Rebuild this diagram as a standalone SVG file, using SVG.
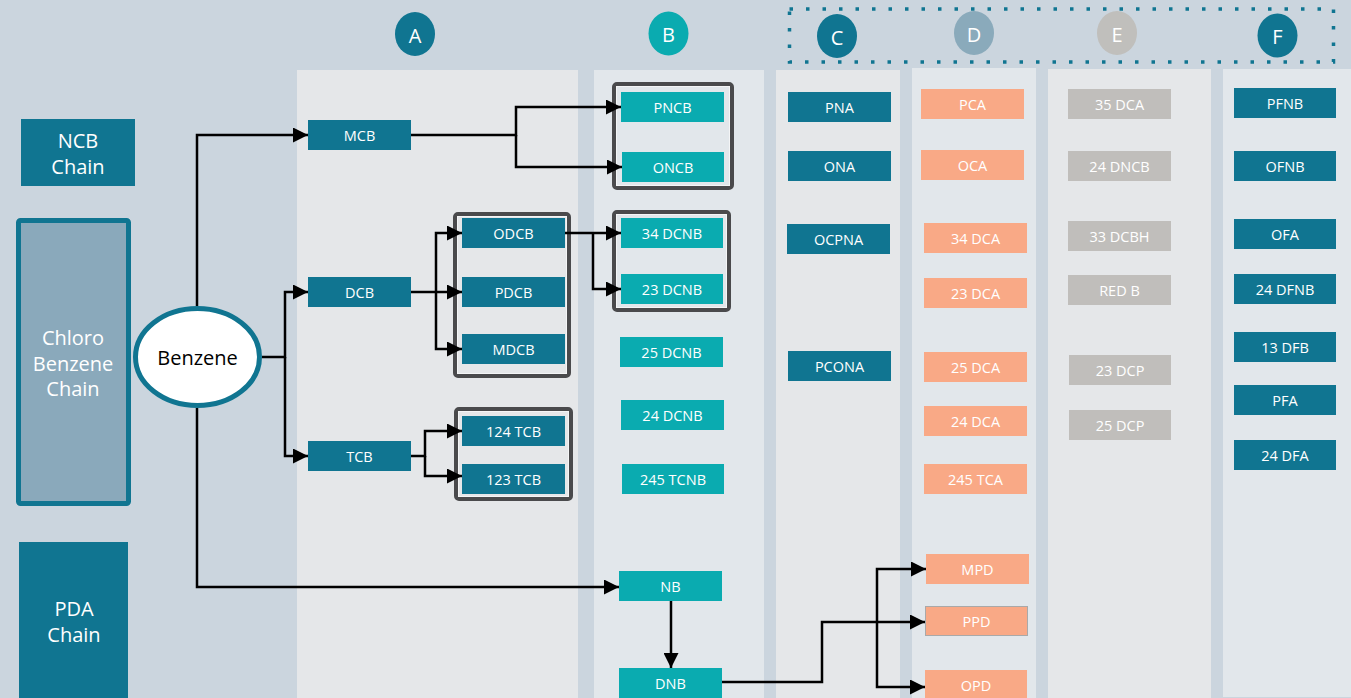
<svg xmlns="http://www.w3.org/2000/svg" width="1351" height="698" viewBox="0 0 1351 698">
<defs>
<marker id="ah" markerUnits="userSpaceOnUse" markerWidth="15" markerHeight="15" refX="15" refY="7.5" orient="auto">
<path d="M0,0 L15,7.5 L0,15 z" fill="#000"/>
</marker>
<style>
.bg{fill:#cbd5de}
.pa{fill:#e5e7e9}
.pb{fill:#e2e7eb}
.t{font-family:"Open Sans","Liberation Sans",sans-serif;font-size:14.5px;fill:#fff;text-anchor:middle;dominant-baseline:central}
.big{font-family:"Open Sans","Liberation Sans",sans-serif;font-size:20px;fill:#fff;text-anchor:middle;dominant-baseline:central}
.dk{fill:#107591}
.tq{fill:#0aabb0}
.sa{fill:#f9a986}
.gr{fill:#c0bebb}
.frame{fill:none;stroke:#4a4a4c;stroke-width:4}
.inner{fill:none;stroke:#f4f5f6;stroke-width:1}
.c{fill:none;stroke:#000;stroke-width:2.5;marker-end:url(#ah)}
</style>
</defs>
<rect class="bg" x="0" y="0" width="1351" height="698"/>
<g id="panels">
<rect class="pa" x="297" y="70" width="281" height="628"/>
<rect class="pb" x="594" y="70" width="170" height="628"/>
<rect class="pa" x="776" y="70" width="124" height="628"/>
<rect class="pb" x="912" y="68" width="124" height="630"/>
<rect class="pa" x="1048" y="69" width="163" height="629"/>
<rect class="pb" x="1223" y="69" width="128" height="628"/>
</g>
<rect id="dotted" x="789.5" y="9" width="544" height="53" fill="none" stroke="#107591" stroke-width="3.5" stroke-dasharray="3.5 13"/>
<g id="headers">
<ellipse cx="415" cy="34" rx="20" ry="22" fill="#107591"/><text class="big" x="415" y="35">A</text>
<ellipse cx="668.5" cy="33.5" rx="20" ry="22" fill="#0aabb0"/><text class="big" x="668.5" y="34.5">B</text>
<ellipse cx="837" cy="36" rx="20" ry="22" fill="#107591"/><text class="big" x="837" y="37">C</text>
<ellipse cx="974" cy="33" rx="20" ry="22" fill="#8aaabb"/><text class="big" x="974" y="34">D</text>
<ellipse cx="1117" cy="33" rx="20" ry="22" fill="#c0bfbc"/><text class="big" x="1117" y="34">E</text>
<ellipse cx="1277.5" cy="35.5" rx="20" ry="22" fill="#107591"/><text class="big" x="1277.5" y="36.5">F</text>
</g>
<g id="ncb-chain"><rect class="dk" x="21" y="119" width="114" height="67"/><text class="big" x="78" y="140">NCB</text><text class="big" x="78" y="166">Chain</text></g>
<g id="chloro-chain"><rect x="18.5" y="220.5" width="110" height="283" rx="2" fill="#8aa9bb" stroke="#107591" stroke-width="5"/><text class="big" x="73" y="337">Chloro</text><text class="big" x="73" y="363">Benzene</text><text class="big" x="73" y="388">Chain</text></g>
<g id="pda-chain"><rect class="dk" x="19" y="542" width="109" height="156"/><text class="big" x="74" y="608">PDA</text><text class="big" x="74" y="634">Chain</text></g>
<g id="frames">
<rect class="frame" x="614" y="84" width="118" height="104" rx="3"/><rect class="inner" x="616.5" y="86.5" width="113" height="99"/>
<rect class="frame" x="455" y="214" width="114" height="162" rx="3"/><rect class="inner" x="457.5" y="216.5" width="109" height="157"/>
<rect class="frame" x="614" y="212" width="115" height="98" rx="3"/><rect class="inner" x="616.5" y="214.5" width="110" height="93"/>
<rect class="frame" x="456" y="409" width="115" height="90" rx="3"/><rect class="inner" x="458.5" y="411.5" width="110" height="85"/>
</g>
<g id="connectors">
<path class="c" d="M197,306 V135 H308"/>
<path class="c" d="M197,408 V587 H619"/>
<path class="c" d="M262,357 H285 V292 H308"/>
<path class="c" d="M285,357 V456 H308"/>
<path class="c" d="M411,135 H516 V107 H621"/>
<path class="c" d="M516,135 V167 H622"/>
<path class="c" d="M411,292 H462"/>
<path class="c" d="M436,292 V233 H462"/>
<path class="c" d="M436,292 V349 H462"/>
<path class="c" d="M565,233 H621"/>
<path class="c" d="M593,233 V289 H621"/>
<path class="c" d="M411,456 H425 V431 H462"/>
<path class="c" d="M425,456 V476 H462"/>
<path class="c" d="M671,601 V668"/>
<path class="c" d="M722,682 H822 V622 H925"/>
<path class="c" d="M877,622 V569 H926"/>
<path class="c" d="M877,622 V687 H925"/>
</g>
<g id="benzene"><ellipse cx="197.5" cy="357" rx="62" ry="48.5" fill="#fff" stroke="#107591" stroke-width="5"/><text x="197.5" y="357" font-family="'Open Sans','Liberation Sans',sans-serif" font-size="20" fill="#000" text-anchor="middle" dominant-baseline="central">Benzene</text></g>
<g id="MCB"><rect class="dk" x="308" y="120" width="103" height="30"/><text class="t" x="359.5" y="135">MCB</text></g>
<g id="DCB"><rect class="dk" x="308" y="277" width="103" height="30"/><text class="t" x="359.5" y="292">DCB</text></g>
<g id="TCB"><rect class="dk" x="308" y="441" width="103" height="30"/><text class="t" x="359.5" y="456">TCB</text></g>
<g id="ODCB"><rect class="dk" x="462" y="218" width="103" height="30"/><text class="t" x="513.5" y="233">ODCB</text></g>
<g id="PDCB"><rect class="dk" x="462" y="277" width="103" height="30"/><text class="t" x="513.5" y="292">PDCB</text></g>
<g id="MDCB"><rect class="dk" x="462" y="334" width="103" height="30"/><text class="t" x="513.5" y="349">MDCB</text></g>
<g id="TCB124"><rect class="dk" x="462" y="416" width="103" height="30"/><text class="t" x="513.5" y="431">124 TCB</text></g>
<g id="TCB123"><rect class="dk" x="462" y="464" width="103" height="30"/><text class="t" x="513.5" y="479">123 TCB</text></g>
<g id="PNCB"><rect class="tq" x="621" y="92" width="103" height="30"/><text class="t" x="672.5" y="107">PNCB</text></g>
<g id="ONCB"><rect class="tq" x="622" y="152" width="102" height="30"/><text class="t" x="673" y="167">ONCB</text></g>
<g id="DCNB34"><rect class="tq" x="621" y="218" width="102" height="30"/><text class="t" x="672" y="233">34 DCNB</text></g>
<g id="DCNB23"><rect class="tq" x="621" y="274" width="102" height="30"/><text class="t" x="672" y="289">23 DCNB</text></g>
<g id="DCNB25"><rect class="tq" x="620" y="337" width="103" height="30"/><text class="t" x="671.5" y="352">25 DCNB</text></g>
<g id="DCNB24"><rect class="tq" x="621" y="400" width="103" height="30"/><text class="t" x="672.5" y="415">24 DCNB</text></g>
<g id="TCNB245"><rect class="tq" x="622" y="464" width="102" height="30"/><text class="t" x="673" y="479">245 TCNB</text></g>
<g id="NB"><rect class="tq" x="619" y="571" width="103" height="30"/><text class="t" x="670.5" y="586">NB</text></g>
<g id="DNB"><rect class="tq" x="619" y="668" width="103" height="32"/><text class="t" x="670.5" y="683">DNB</text></g>
<g id="PNA"><rect class="dk" x="788" y="92" width="103" height="30"/><text class="t" x="839.5" y="107">PNA</text></g>
<g id="ONA"><rect class="dk" x="788" y="151" width="103" height="30"/><text class="t" x="839.5" y="166">ONA</text></g>
<g id="OCPNA"><rect class="dk" x="787" y="224" width="103" height="30"/><text class="t" x="838.5" y="239">OCPNA</text></g>
<g id="PCONA"><rect class="dk" x="788" y="351" width="103" height="30"/><text class="t" x="839.5" y="366">PCONA</text></g>
<g id="PCA"><rect class="sa" x="921" y="89" width="103" height="30"/><text class="t" x="972.5" y="104">PCA</text></g>
<g id="OCA"><rect class="sa" x="921" y="150" width="103" height="30"/><text class="t" x="972.5" y="165">OCA</text></g>
<g id="DCA34"><rect class="sa" x="924" y="223" width="103" height="30"/><text class="t" x="975.5" y="238">34 DCA</text></g>
<g id="DCA23"><rect class="sa" x="924" y="278" width="103" height="30"/><text class="t" x="975.5" y="293">23 DCA</text></g>
<g id="DCA25"><rect class="sa" x="924" y="352" width="103" height="30"/><text class="t" x="975.5" y="367">25 DCA</text></g>
<g id="DCA24"><rect class="sa" x="924" y="406" width="103" height="30"/><text class="t" x="975.5" y="421">24 DCA</text></g>
<g id="TCA245"><rect class="sa" x="924" y="464" width="103" height="30"/><text class="t" x="975.5" y="479">245 TCA</text></g>
<g id="MPD"><rect class="sa" x="926" y="554" width="103" height="30"/><text class="t" x="977.5" y="569">MPD</text></g>
<g id="PPD"><rect class="sa" x="925.5" y="606.5" width="102" height="29" stroke="#a9a9a9" stroke-width="1"/><text class="t" x="976.5" y="621">PPD</text></g>
<g id="OPD"><rect class="sa" x="925" y="670" width="102" height="30"/><text class="t" x="976" y="685">OPD</text></g>
<g id="DCA35"><rect class="gr" x="1068" y="89" width="103" height="30"/><text class="t" x="1119.5" y="104">35 DCA</text></g>
<g id="DNCB24"><rect class="gr" x="1068" y="151" width="103" height="30"/><text class="t" x="1119.5" y="166">24 DNCB</text></g>
<g id="DCBH33"><rect class="gr" x="1068" y="221" width="103" height="30"/><text class="t" x="1119.5" y="236">33 DCBH</text></g>
<g id="REDB"><rect class="gr" x="1068" y="275" width="103" height="30"/><text class="t" x="1119.5" y="290">RED B</text></g>
<g id="DCP23"><rect class="gr" x="1069" y="355" width="102" height="30"/><text class="t" x="1120" y="370">23 DCP</text></g>
<g id="DCP25"><rect class="gr" x="1069" y="410" width="102" height="30"/><text class="t" x="1120" y="425">25 DCP</text></g>
<g id="PFNB"><rect class="dk" x="1234" y="88" width="102" height="30"/><text class="t" x="1285" y="103">PFNB</text></g>
<g id="OFNB"><rect class="dk" x="1234" y="151" width="102" height="30"/><text class="t" x="1285" y="166">OFNB</text></g>
<g id="OFA"><rect class="dk" x="1234" y="219" width="102" height="30"/><text class="t" x="1285" y="234">OFA</text></g>
<g id="DFNB24"><rect class="dk" x="1234" y="274" width="102" height="30"/><text class="t" x="1285" y="289">24 DFNB</text></g>
<g id="DFB13"><rect class="dk" x="1234" y="332" width="102" height="30"/><text class="t" x="1285" y="347">13 DFB</text></g>
<g id="PFA"><rect class="dk" x="1234" y="385" width="102" height="30"/><text class="t" x="1285" y="400">PFA</text></g>
<g id="DFA24"><rect class="dk" x="1234" y="440" width="102" height="30"/><text class="t" x="1285" y="455">24 DFA</text></g>
</svg>
